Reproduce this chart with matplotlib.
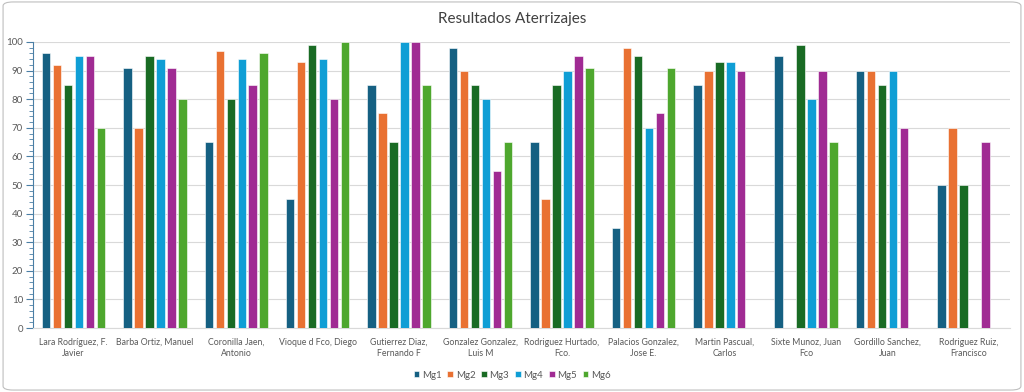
import numpy as np
import matplotlib.pyplot as plt
from matplotlib.patches import FancyBboxPatch
from matplotlib.ticker import MultipleLocator

plt.rcParams['font.family'] = ['Lato', 'DejaVu Sans']

nombres = ["Lara Rodríguez, F.\nJavier", "Barba Ortiz, Manuel", "Coronilla Jaen,\nAntonio",
           "Vioque d Fco, Diego", "Gutierrez Diaz,\nFernando F", "Gonzalez Gonzalez,\nLuis M",
           "Rodriguez Hurtado,\nFco.", "Palacios Gonzalez,\nJose E.", "Martin Pascual,\nCarlos",
           "Sixte Munoz, Juan\nFco", "Gordillo Sanchez,\nJuan", "Rodriguez Ruiz,\nFrancisco"]

nan = np.nan
mg1 = [96, 91, 65, 45, 85, 98, 65, 35, 85, 95, 90, 50]
mg2 = [92, 70, 97, 93, 75, 90, 45, 98, 90, nan, 90, 70]
mg3 = [85, 95, 80, 99, 65, 85, 85, 95, 93, 99, 85, 50]
mg4 = [95, 94, 94, 94, 100, 80, 90, 70, 93, 80, 90, nan]
mg5 = [95, 91, 85, 80, 100, 55, 95, 75, 90, 90, 70, 65]
mg6 = [70, 80, 96, 100, 85, 65, 91, 91, nan, 65, nan, nan]

series = [mg1, mg2, mg3, mg4, mg5, mg6]
etiquetas = ['Mg1', 'Mg2', 'Mg3', 'Mg4', 'Mg5', 'Mg6']
colores = ['#156082', '#E97132', '#196B24', '#0F9ED5', '#A02B93', '#4EA72E']

fig = plt.figure(figsize=(10.24, 3.92), dpi=100)
ax = fig.add_axes([0.032, 0.163, 0.954, 0.730])

x = np.arange(len(nombres))
paso = 0.135
ancho = 0.105
for i, (vals, lab, col) in enumerate(zip(series, etiquetas, colores)):
    ax.bar(x + (i - 2.5) * paso, vals, ancho, color=col, label=lab,
           edgecolor='white', linewidth=0.4, zorder=3)

ax.set_xlim(-0.5, len(nombres) - 0.5)
ax.set_ylim(0, 100)
ax.yaxis.set_major_locator(MultipleLocator(10))
ax.yaxis.set_minor_locator(MultipleLocator(2))
ax.grid(axis='y', color='#d9d9d9', linewidth=0.8, zorder=0)
ax.set_xticks(x)
ax.set_xticklabels(nombres, fontsize=6.3, color='#595959', linespacing=1.3)
ax.tick_params(axis='x', length=0, pad=7)
ax.tick_params(axis='y', which='major', length=5, color='#4a7fa5', labelsize=7,
               labelcolor='#595959', pad=2)
ax.tick_params(axis='y', which='minor', length=3, color='#4a7fa5')
for s in ['top', 'right']:
    ax.spines[s].set_visible(False)
ax.spines['left'].set_color('#4a7fa5')
ax.spines['bottom'].set_color('#d9d9d9')

fig.suptitle('Resultados Aterrizajes', y=0.97, fontsize=11, color='#404040')
fig.legend(loc='center', bbox_to_anchor=(0.5, 0.043), ncol=6, frameon=False,
           fontsize=7, handlelength=0.6, handleheight=0.6, handletextpad=0.25,
           columnspacing=0.6, labelcolor='#595959')

borde = FancyBboxPatch((0.003, 0.005), 0.994, 0.99, boxstyle='round,pad=0,rounding_size=0.01',
                       transform=fig.transFigure, fill=False, edgecolor='#bfbfbf', linewidth=0.8)
fig.patches.append(borde)

fig.savefig('out.png', dpi=100, facecolor='white')
